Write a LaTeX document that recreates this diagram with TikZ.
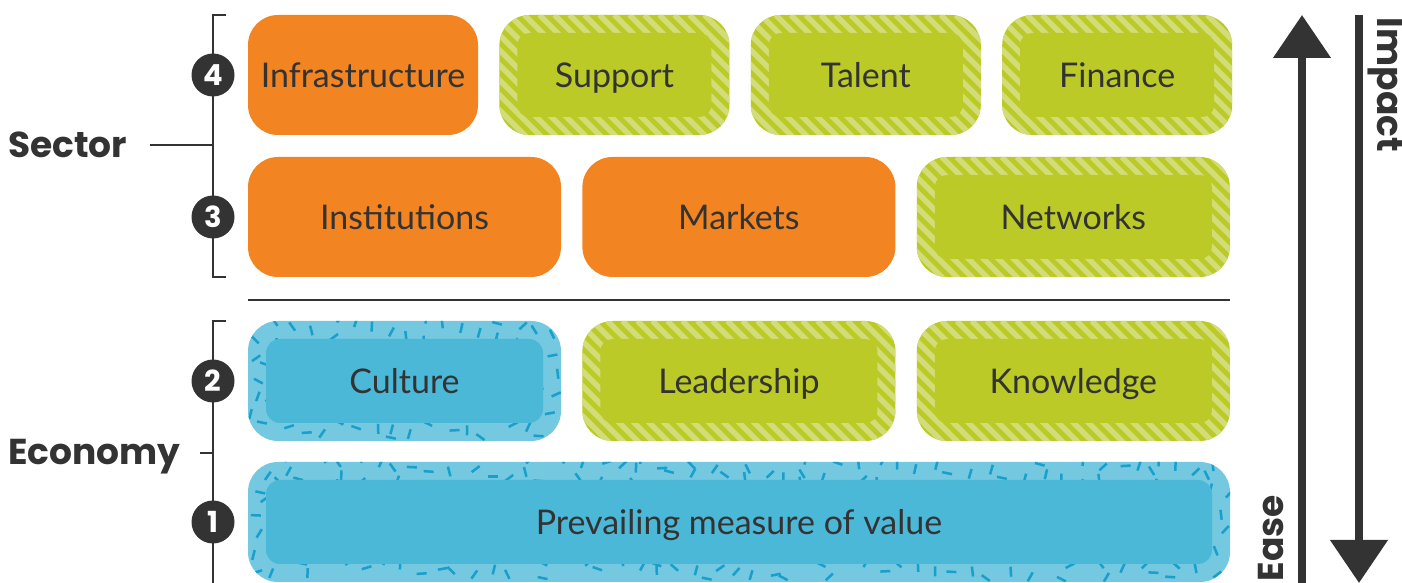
\documentclass[tikz,border=0pt]{standalone}
\usepackage{fontspec}
\setmainfont{Lato}
\newfontfamily\headfont{Poppins}
\usetikzlibrary{positioning, arrows.meta, calc}
\definecolor{ink}{HTML}{333333}
\definecolor{orgfill}{HTML}{F28422}
\definecolor{grnfill}{HTML}{BBCA27}
\definecolor{grnlite}{HTML}{D2DD7A}
\definecolor{bluout}{HTML}{74C8E0}
\definecolor{bluin}{HTML}{4CB8D8}
\definecolor{bludash}{HTML}{189FCB}
\tikzset{
  blk/.style={rectangle, rounded corners=30pt, minimum height=120pt, inner sep=0pt,
    text height=24.5pt, text depth=0pt,
    font=\fontsize{34}{38}\selectfont, text=ink},
  orng/.style={blk, fill=orgfill},
  strp/.style={blk, fill=grnfill, path picture={
      \foreach \k in {0,15,...,480}
        \draw[grnlite, line width=5.5pt]
          ([xshift={(\k-140)*1pt}]path picture bounding box.north west) -- ++(140,-140);
      \fill[grnfill, rounded corners=12pt]
        ([shift={(18pt,18pt)}]path picture bounding box.south west) rectangle
        ([shift={(-18pt,-18pt)}]path picture bounding box.north east);
    }},
  % confetti dashes scattered over the rim
  spck/.style={blk, fill=bluout, path picture={
      \foreach \i in {1,...,#1}
        \path let \p1=(path picture bounding box.south west),
                  \p2=(path picture bounding box.north east),
                  \n1={\x1+mod(\i*0.6180340,1)*(\x2-\x1)},
                  \n2={\y1+mod(\i*0.7548777,1)*(\y2-\y1)},
                  \n3={mod(997*abs(sin(\i*37)),180)} in
          [draw=bludash, line width=2.5pt] (\n1,\n2) -- ++(\n3:10pt);
      \fill[bluin, rounded corners=14pt]
        ([shift={(18pt,18pt)}]path picture bounding box.south west) rectangle
        ([shift={(-18pt,-18pt)}]path picture bounding box.north east);
    }},
  num/.style={circle, fill=ink, text=white, minimum size=43pt, inner sep=0pt,
    font=\headfont\bfseries\fontsize{29}{29}\selectfont},
  lvl/.style={font=\headfont\bfseries\fontsize{36}{36}\selectfont, text=ink, inner sep=0pt},
  rule/.style={draw=ink, line width=1.5pt},
  axis/.style={draw=ink, line width=8pt, -{Triangle[length=43pt, width=56pt]}},
}

\begin{document}
\begin{tikzpicture}[x=1pt, y=1pt, node distance=21pt]
  \useasboundingbox (0,0) rectangle (1402,583);

  % sector rows
  \node[orng, minimum width=230pt] (infra) at (363,508) {Infrastructure};
  \node[strp, minimum width=230pt, right=of infra] (support) {Support};
  \node[strp, minimum width=230pt, right=of support] (talent) {Talent};
  \node[strp, minimum width=230pt, right=of talent] (finance) {Finance};
  \node[orng, minimum width=313pt] (inst) at (404.5,366) {Institutions};
  \node[orng, minimum width=313pt, right=of inst] (markets) {Markets};
  \node[strp, minimum width=313pt, right=of markets] (networks) {Networks};

  \draw[rule] (inst.south west |- 0,283) coordinate (sepl) -- (networks.south east |- sepl) coordinate (sepr);

  % economy rows
  \node[spck=115, minimum width=313pt] (culture) at (404.5,202) {Culture};
  \node[strp, minimum width=313pt, right=of culture] (leader) {Leadership};
  \node[strp, minimum width=313pt, right=of leader] (knowledge) {Knowledge};
  \node[spck=360, minimum width=982pt] (value) at (739,61) {Prevailing measure of value};

  % brackets on the left
  \coordinate (stop) at (226,568);
  \coordinate (sbot) at (226,306);
  \coordinate (etop) at (226,262);
  \coordinate (ebot) at (213,0);
  \draw[rule] (stop) -- (213,568) -- (213,306) -- (sbot);
  \draw[rule] (etop) -- (213,262) -- (ebot);

  \node[lvl, anchor=base west] (sector) at (8,425) {Sector};
  \node[lvl, anchor=base west] (economy) at (8,118) {Economy};
  \coordinate (stick) at (150,438);
  \coordinate (etick) at (200,130);
  \draw[rule] (stick) -- (stick -| ebot);
  \draw[rule] (etick) -- (etick -| ebot);

  \node[num] (n4) at (213,508) {4};
  \node[num] (n3) at (213,366) {3};
  \node[num] (n2) at (213,202) {2};
  \node[num] (n1) at (213,61) {1};

  % impact / ease axes
  \coordinate (upfoot) at (1302,0);
  \coordinate (uptip) at (1302,568);
  \coordinate (dnfoot) at (1359,568);
  \coordinate (dntip) at (1359,0);
  \draw[axis] (upfoot) -- (uptip);
  \draw[axis] (dnfoot) -- (dntip);
  \node[lvl, rotate=-90, anchor=base] (impact) at (1377,498) {Impact};
  \node[lvl, rotate=90, anchor=base] (ease) at (1283,45) {Ease};
\end{tikzpicture}
\end{document}
